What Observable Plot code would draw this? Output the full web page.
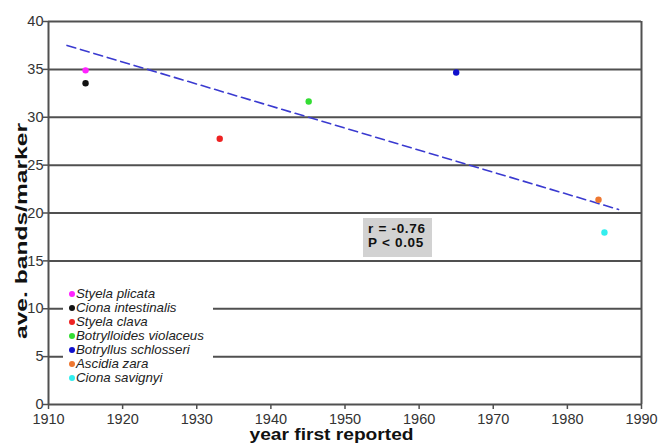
<!DOCTYPE html>
<html>
<head>
<meta charset="utf-8">
<script src="https://cdn.jsdelivr.net/npm/d3@7"></script>
<script src="https://cdn.jsdelivr.net/npm/@observablehq/plot@0.6"></script>
<style>
  html, body { margin: 0; padding: 0; background: #fff; }
  #wrap { position: relative; width: 663px; height: 446px; font-family: "Liberation Sans", Arial, sans-serif; }
  #legend { position: absolute; left: 63px; top: 286px; width: 150px; background: #fff; padding: 1px 0 3px 0; }
  .lrow { font-style: italic; font-size: 13.3px; line-height: 14px; color: #222; white-space: nowrap; }
  .ldot { display: inline-block; width: 6px; height: 6px; border-radius: 50%; margin: 0 1px 1px 6px; vertical-align: middle; }
  #stats { position: absolute; left: 363px; top: 218px; width: 69px; height: 39px; background: #d2d2d2;
           font-weight: bold; font-size: 13.5px; letter-spacing: 0.7px; line-height: 14px; color: #111; box-sizing: border-box; padding: 4px 0 0 5px; }
</style>
</head>
<body>
<div id="wrap"></div>
<script>
const species = ["Styela plicata", "Ciona intestinalis", "Styela clava", "Botrylloides violaceus",
                 "Botryllus schlosseri", "Ascidia zara", "Ciona savignyi"];
const years = [1915, 1915, 1933.1, 1945.1, 1965, 1984.2, 1985];
const bands = [34.9, 33.55, 27.75, 31.65, 34.67, 21.38, 17.96];
const colors = ["#ff22ff", "#111111", "#ee2222", "#33dd33", "#1010cc", "#ee7730", "#33eeee"];
const trendYears = [1912.5, 1986.9];
const trendBands = [37.5, 20.37];
const xTicks = [1910, 1920, 1930, 1940, 1950, 1960, 1970, 1980, 1990];
const yTicks = [0, 5, 10, 15, 20, 25, 30, 35, 40];
const gridVals = [5, 10, 15, 20, 25, 30, 35, 40];
const statsLines = ["r = -0.76", "P < 0.05"];
const xTitle = "year first reported";
const yTitle = "ave. bands/marker";

const points = species.map((s, i) => ({species: s, year: years[i], bands: bands[i], color: colors[i]}));
const trend = trendYears.map((y, i) => ({year: y, bands: trendBands[i]}));

const lineColor = "#505050";
const plot = Plot.plot({
  width: 663,
  height: 446,
  marginLeft: 48,
  marginRight: 22,
  marginTop: 21,
  marginBottom: 42,
  style: {fontFamily: "'Liberation Sans', Arial, sans-serif", background: "white"},
  x: {domain: [1910, 1990]},
  y: {domain: [0, 40]},
  marks: [
    Plot.ruleY(gridVals, {stroke: lineColor, strokeWidth: 2}),
    Plot.ruleY([0], {stroke: lineColor, strokeWidth: 2}),
    Plot.ruleX([1910, 1990], {stroke: lineColor, strokeWidth: 2}),
    Plot.axisX({ticks: xTicks, tickFormat: d => String(d), tickSize: 5, tickPadding: 4, fontSize: 14.5, color: "#333", stroke: lineColor, strokeWidth: 1.5, label: null}),
    Plot.axisY({ticks: yTicks, tickSize: 5, tickPadding: 0, fontSize: 14.5, color: "#333", stroke: lineColor, strokeWidth: 1.5, label: null}),
    Plot.line(trend, {x: "year", y: "bands", stroke: "#3a3ad0", strokeWidth: 1.6, strokeDasharray: "9,5"}),
    Plot.dot(points, {x: "year", y: "bands", fill: "color", r: 3.2, stroke: null}),
    Plot.text([xTitle], {frameAnchor: "bottom-left", text: d => d, textAnchor: "start", dx: 201, dy: 35, fontSize: 16, fontWeight: "bold", fill: "#111"}),
    Plot.text([yTitle], {frameAnchor: "left", text: d => d, textAnchor: "start", rotate: -90, dx: -27, dy: 126, fontSize: 17, fontWeight: "bold", fill: "#111"})
  ]
});

const wrap = document.getElementById("wrap");
wrap.appendChild(plot);

// stretch axis titles to match the reference proportions
d3.select(plot).selectAll("text").each(function() {
  const t = this.textContent;
  if (t === xTitle) d3.select(this).attr("textLength", 164).attr("lengthAdjust", "spacingAndGlyphs");
  if (t === yTitle) d3.select(this).attr("textLength", 216).attr("lengthAdjust", "spacingAndGlyphs");
});

// legend
const legend = document.createElement("div");
legend.id = "legend";
species.forEach((s, i) => {
  const row = document.createElement("div");
  row.className = "lrow";
  const dot = document.createElement("span");
  dot.className = "ldot";
  dot.style.background = colors[i];
  row.appendChild(dot);
  row.appendChild(document.createTextNode(s));
  legend.appendChild(row);
});
wrap.appendChild(legend);

// stats box
const stats = document.createElement("div");
stats.id = "stats";
stats.innerHTML = statsLines.join("<br>");
wrap.appendChild(stats);
</script>
</body>
</html>
